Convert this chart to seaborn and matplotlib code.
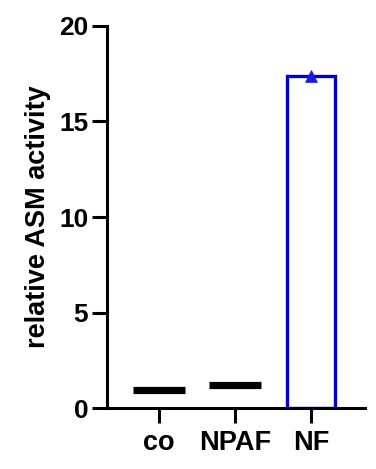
import matplotlib
matplotlib.use("Agg")
import matplotlib.pyplot as plt
import seaborn as sns
import pandas as pd

categories = ["co", "NPAF", "NF"]
values = [0.97, 1.18, 17.4]
colors = ["#000000", "#000000", "#0000CC"]
ylabel = "relative ASM activity"
yticks = [0, 5, 10, 15, 20]

sns.set_theme(style="ticks")
plt.rcParams["font.family"] = ["Liberation Sans", "DejaVu Sans"]
plt.rcParams["font.weight"] = "bold"
plt.rcParams["text.color"] = "black"
plt.rcParams["axes.labelcolor"] = "black"

df = pd.DataFrame({"group": categories, "value": values})

fig = plt.figure(figsize=(3.76, 4.69), dpi=100)
ax = fig.add_axes([0.2846, 0.130, 0.9707 - 0.2846, 0.9446 - 0.130])

# NF: open bar with blue edge
nf = df[df["group"] == "NF"]
sns.barplot(data=nf, x="group", y="value", order=categories, ax=ax,
            fill=False, edgecolor=colors[2], linewidth=2.4, width=0.63,
            errorbar=None)
# triangle point at NF
sns.scatterplot(data=nf, x="group", y="value", ax=ax, marker="^",
                s=70, color="#1A1AE6", edgecolor="#1A1AE6", zorder=5, legend=False)

# co & NPAF: thick horizontal mean lines
for i, (g, v) in enumerate(zip(categories, values)):
    if g != "NF":
        ax.hlines(v, i - 0.34, i + 0.34, colors=colors[i], linewidth=5.2, zorder=4)

ax.set_xlim(-0.684, 2.71)
ax.set_ylim(0, 20)
ax.set_yticks(yticks)
ax.set_xlabel("")
ax.set_ylabel(ylabel, fontsize=19.5, fontweight="bold", labelpad=6, color="black")
sns.despine(ax=ax)
for s in ["left", "bottom"]:
    ax.spines[s].set_linewidth(2.2)
    ax.spines[s].set_color("black")
ax.tick_params(axis="both", width=2.2, length=10.5, colors="black")
ax.tick_params(axis="y", labelsize=19, pad=3)
ax.tick_params(axis="x", labelsize=19.5, pad=5)
for lab in ax.get_xticklabels() + ax.get_yticklabels():
    lab.set_fontweight("bold")

fig.savefig("out.png", dpi=100)
